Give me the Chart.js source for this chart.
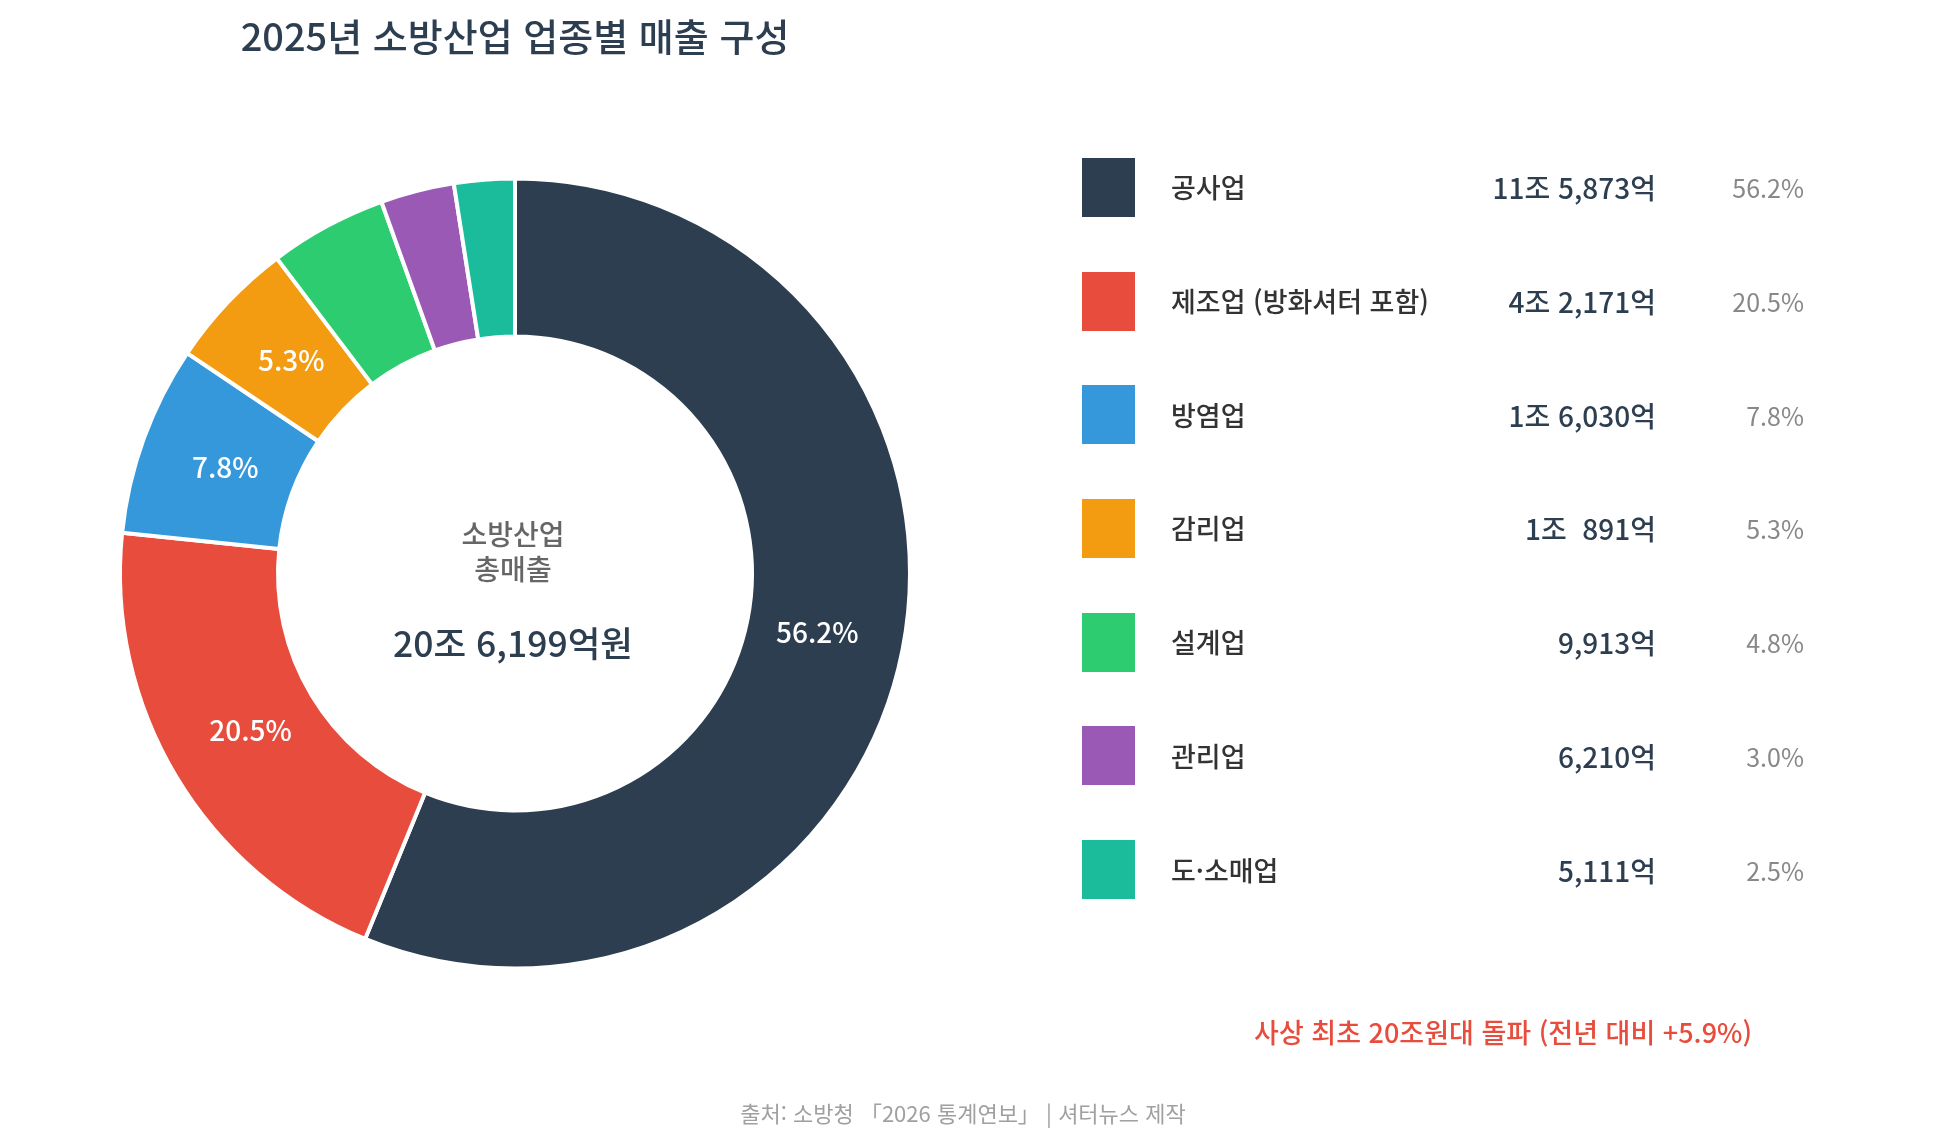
<!DOCTYPE html>
<html lang="ko">
<head>
<meta charset="utf-8">
<script src="https://cdn.jsdelivr.net/npm/chart.js@4.4.1/dist/chart.umd.min.js"></script>
<style>
  html, body { margin: 0; padding: 0; background: #ffffff; }
  body { width: 1953px; height: 1145px; position: relative; overflow: hidden;
         font-family: "Noto Sans CJK KR", "Noto Sans", sans-serif; }
  #c { position: absolute; left: 0; top: 0; }
  .t { position: absolute; white-space: pre; }
  #title { left: 0; width: 1030px; text-align: center; top: 11px; height: 48px; line-height: 48px;
           font-size: 38px; font-weight: 500; color: #2c3e50; }
  .center1 { left: 313px; width: 400px; text-align: center; font-size: 28px; font-weight: 500; color: #666666; line-height: 36px; height: 36px; }
  #ctotal { left: 313px; width: 400px; text-align: center; font-size: 35.5px; font-weight: 500; color: #2c3e50;
            top: 619px; height: 46px; line-height: 46px; }
  .sw { position: absolute; left: 1082px; width: 53px; height: 59px; }
  .lab { left: 1171px; font-size: 27px; font-weight: 500; color: #333333; height: 40px; line-height: 40px; }
  .val { right: calc(1953px - 1656px); font-size: 28px; color: #2c3e50; font-weight: 500; height: 40px; line-height: 40px; text-align: right; }
  .pct { right: calc(1953px - 1804px); font-size: 25px; color: #888888; height: 40px; line-height: 40px; text-align: right; }
  #note { right: calc(1953px - 1752px); top: 1012px; height: 40px; line-height: 40px; font-size: 27px; font-weight: 500; color: #e74c3c; }
  #src { left: 0; width: 1926px; text-align: center; top: 1095px; height: 34px; line-height: 34px; font-size: 22px; color: #a0a0a0; }
</style>
</head>
<body>
<canvas id="c" width="1953" height="1145"></canvas>
<div id="title" class="t">2025년 소방산업 업종별 매출 구성</div>
<div class="t center1" style="top:515px">소방산업</div>
<div class="t center1" style="top:550px">총매출</div>
<div id="ctotal" class="t"></div>
<div id="legend"></div>
<div id="note" class="t">사상 최초 20조원대 돌파 (전년 대비 +5.9%)</div>
<div id="src" class="t">출처: 소방청 「2026 통계연보」 | 셔터뉴스 제작</div>
<script>
// ---- data (단위: 억원) ----
const categories = ['공사업', '제조업 (방화셔터 포함)', '방염업', '감리업', '설계업', '관리업', '도·소매업'];
const sales = [115873, 42171, 16030, 10891, 9913, 6210, 5111];
const colors = ['#2c3e50', '#e74c3c', '#3498db', '#f39c12', '#2ecc71', '#9b59b6', '#1abc9c'];

const total = sales.reduce((a, b) => a + b, 0);
const pcts = sales.map(v => (v / total * 100).toFixed(1));

function fmtEok(v) {
  const jo = Math.floor(v / 10000);
  const rest = v % 10000;
  const restStr = rest.toLocaleString('en-US');
  if (jo > 0) return jo + '조 ' + (rest < 1000 ? ' ' : '') + restStr + '억';
  return restStr + '억';
}

document.getElementById('ctotal').textContent = fmtEok(total) + '원';

// legend (built from the arrays)
const legend = document.getElementById('legend');
const row0 = 187.3, rowStep = 113.7;
categories.forEach((name, i) => {
  const cy = row0 + i * rowStep;
  const sw = document.createElement('div');
  sw.className = 'sw';
  sw.style.top = (cy - 29.5) + 'px';
  sw.style.background = colors[i];
  legend.appendChild(sw);
  const mk = (cls, txt) => {
    const d = document.createElement('div');
    d.className = 't ' + cls;
    d.style.top = (cy - 20) + 'px';
    d.textContent = txt;
    legend.appendChild(d);
  };
  mk('lab', name);
  mk('val', fmtEok(sales[i]));
  mk('pct', pcts[i] + '%');
});

// in-slice percentage labels
const sliceLabels = {
  id: 'sliceLabels',
  afterDatasetsDraw(chart) {
    const ctx = chart.ctx;
    const meta = chart.getDatasetMeta(0);
    ctx.save();
    ctx.fillStyle = '#ffffff';
    ctx.font = '500 28px "Noto Sans CJK KR", "Noto Sans", sans-serif';
    ctx.textAlign = 'center';
    ctx.textBaseline = 'middle';
    meta.data.forEach((arc, i) => {
      if (parseFloat(pcts[i]) < 5) return;
      const p = arc.getProps(['x', 'y', 'startAngle', 'endAngle', 'innerRadius', 'outerRadius'], true);
      const mid = (p.startAngle + p.endAngle) / 2;
      const r = p.innerRadius + (p.outerRadius - p.innerRadius) * 0.45;
      ctx.fillText(pcts[i] + '%', p.x + Math.cos(mid) * r, p.y + Math.sin(mid) * r - 1);
    });
    ctx.restore();
  }
};

new Chart(document.getElementById('c'), {
  type: 'doughnut',
  data: {
    labels: categories,
    datasets: [{
      data: sales,
      backgroundColor: colors,
      borderColor: '#ffffff',
      borderWidth: 4,
      hoverOffset: 0
    }]
  },
  options: {
    responsive: false,
    animation: false,
    cutout: '60%',
    layout: { padding: { left: 118, right: 1041, top: 176, bottom: 174 } },
    plugins: {
      legend: { display: false },
      tooltip: { enabled: false },
      title: { display: false }
    }
  },
  plugins: [sliceLabels]
});
</script>
</body>
</html>
